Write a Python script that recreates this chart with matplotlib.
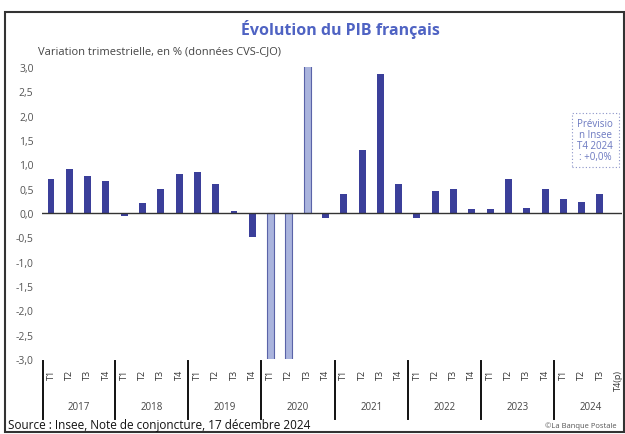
import matplotlib
matplotlib.use("Agg")
import matplotlib.pyplot as plt
from matplotlib.patches import Rectangle

plt.rcParams['font.family'] = ['Open Sans', 'DejaVu Sans']

# variation trimestrielle du PIB (%), T1 2017 -> T4 2024 (T4 2024 = prevision)
years = ["2017", "2018", "2019", "2020", "2021", "2022", "2023", "2024"]
quarters = ["T1", "T2", "T3", "T4"]
pib = [0.7, 0.9, 0.75, 0.65,
       -0.07, 0.2, 0.5, 0.8,
       0.85, 0.6, 0.05, -0.5,
       -5.4, -13.2, 18.5, -0.1,
       0.4, 1.3, 2.85, 0.6,
       -0.1, 0.45, 0.5, 0.08,
       0.08, 0.7, 0.1, 0.5,
       0.28, 0.23, 0.4, 0.0]
last_label = "T4(p)"

ymin, ymax = -3.0, 3.0
navy = "#3b3f9a"
light = "#aab4dd"

fig = plt.figure(figsize=(6.25, 4.35), dpi=100)
ax = fig.add_axes([0.067, 0.1724, 0.928, 0.6713])

xs = list(range(len(pib)))
for x, v in zip(xs, pib):
    if v > ymax or v < ymin:
        ax.bar(x, v, width=0.38, color=light, edgecolor="#5a63a8", linewidth=0.8)
    else:
        ax.bar(x, v, width=0.38, color=navy)

ax.axhline(0, color="#333333", lw=1.0)
ax.set_ylim(ymin, ymax)
ax.set_xlim(-0.5, 31.2)
ax.set_yticks([-3 + 0.5 * k for k in range(13)])
ax.set_yticklabels([("%.1f" % t).replace(".", ",") for t in ax.get_yticks()],
                   fontsize=7.5, color="#555555")
ax.tick_params(axis="y", length=0, pad=6)
ax.set_xticks([])
for s in ax.spines.values():
    s.set_visible(False)

# libelles trimestres et annees
tr = ax.get_xaxis_transform()
for i, x in enumerate(xs):
    lab = quarters[i % 4]
    if i == len(xs) - 1:
        lab = last_label
    ax.text(x, -0.035, lab, transform=tr, rotation=90, ha="center", va="top",
            fontsize=6.5, color="#333333", clip_on=False)
for k, y in enumerate(years):
    ax.text(4 * k + 1.5, -0.161, y, transform=tr, ha="center", va="center",
            fontsize=7, color="#444444")
    xsep = 4 * k - 0.5 if k > 0 else -0.45
    ax.plot([xsep, xsep], [-0.007, -0.205], transform=tr, color="#111111",
            lw=1.4, clip_on=False)

# encadre prevision
ax.text(29.75, 1.5, "Prévisio\nn Insee\nT4 2024\n: +0,0%", ha="center", va="center",
        fontsize=7, color="#6b78c0", linespacing=1.0,
        bbox=dict(boxstyle="square,pad=0.55", fc="white", ec="#8a93c8", ls=(0, (1, 2)), lw=0.8))

fig.text(0.544, 0.932, "Évolution du PIB français", ha="center", va="center",
         fontsize=11.5, fontweight="bold", color="#4f63c3")
fig.text(0.061, 0.881, "Variation trimestrielle, en % (données CVS-CJO)", ha="left",
         va="center", fontsize=8, color="#444444")
fig.text(0.013, 0.021, "Source : Insee, Note de conjoncture, 17 décembre 2024", ha="left",
         va="center", fontsize=8.5, color="#111111")
fig.text(0.987, 0.02, "©La Banque Postale", ha="right", va="center",
         fontsize=5.5, color="#555555")

fig.patches.append(Rectangle((0.008, 0.005), 0.99, 0.965, transform=fig.transFigure,
                             fill=False, ec="#333333", lw=1.5))

fig.savefig("out.png", dpi=100)
